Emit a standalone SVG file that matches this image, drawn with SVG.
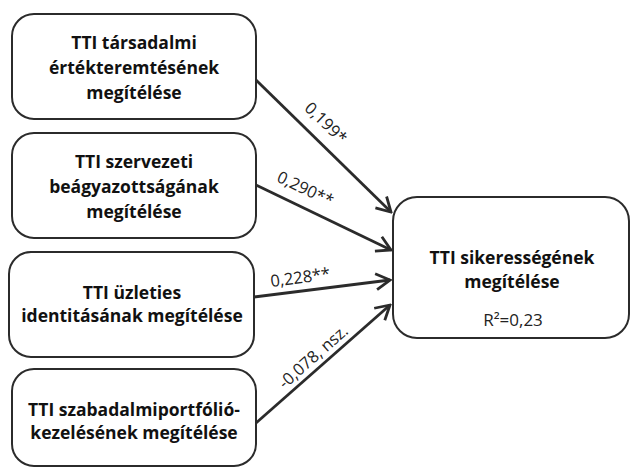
<svg xmlns="http://www.w3.org/2000/svg" width="632" height="472" viewBox="0 0 632 472">
<defs>
<style>
.box{fill:#fff;stroke:#2b2b2b;stroke-width:2}
.bt{font-family:"Open Sans","Liberation Sans",sans-serif;font-weight:bold;font-size:17.5px;fill:#111;text-anchor:middle}
.rt{font-family:"Open Sans","Liberation Sans",sans-serif;font-size:17px;fill:#222;text-anchor:middle}
.el{font-family:"Open Sans","Liberation Sans",sans-serif;font-size:16.5px;fill:#222;text-anchor:middle}
.con{stroke:#2b2b2b;stroke-width:2.8;fill:none;marker-end:url(#arr)}
</style>
<marker id="arr" markerUnits="userSpaceOnUse" viewBox="-16 -10 18 20" refX="0" refY="0" markerWidth="18" markerHeight="20" orient="auto">
<path d="M-14,-8 L0,0 L-14,8" fill="none" stroke="#2b2b2b" stroke-width="2.8" stroke-linejoin="miter"/>
</marker>
</defs>
<rect width="632" height="472" fill="#fff"/>
<g id="n1">
<rect class="box" x="12" y="14" width="244" height="105" rx="22"/>
<text class="bt" x="134" y="49">TTI társadalmi</text>
<text class="bt" x="134" y="74">értékteremtésének</text>
<text class="bt" x="134" y="99">megítélése</text>
</g>
<g id="n2">
<rect class="box" x="12" y="133" width="244" height="105" rx="22"/>
<text class="bt" x="134" y="168">TTI szervezeti</text>
<text class="bt" x="134" y="193">beágyazottságának</text>
<text class="bt" x="134" y="218">megítélése</text>
</g>
<g id="n3">
<rect class="box" x="9" y="252" width="245" height="105" rx="22"/>
<text class="bt" x="132" y="299">TTI üzleties</text>
<text class="bt" x="132" y="322">identitásának megítélése</text>
</g>
<g id="n4">
<rect class="box" x="12" y="369" width="244" height="97" rx="22"/>
<text class="bt" x="134" y="416">TTI szabadalmiportfólió-</text>
<text class="bt" x="134" y="439">kezelésének megítélése</text>
</g>
<g id="n5">
<rect class="box" x="393" y="197" width="236" height="141" rx="24"/>
<text class="bt" x="512" y="264">TTI sikerességének</text>
<text class="bt" x="512" y="288">megítélése</text>
<text class="rt" x="513" y="326">R²=0,23</text>
</g>
<g id="connectors">
<line class="con" x1="256" y1="80" x2="391" y2="212"/>
<line class="con" x1="256" y1="185" x2="391" y2="250"/>
<line class="con" x1="254" y1="297" x2="390" y2="280"/>
<line class="con" x1="256" y1="423" x2="390" y2="305"/>
<text class="el" transform="translate(322,127) rotate(44)">0,199*</text>
<text class="el" transform="translate(303,194) rotate(25.5)">0,290**</text>
<text class="el" transform="translate(301,283) rotate(-7.5)">0,228**</text>
<text class="el" transform="translate(317,361) rotate(-41.5)">-0,078, nsz.</text>
</g>
</svg>
